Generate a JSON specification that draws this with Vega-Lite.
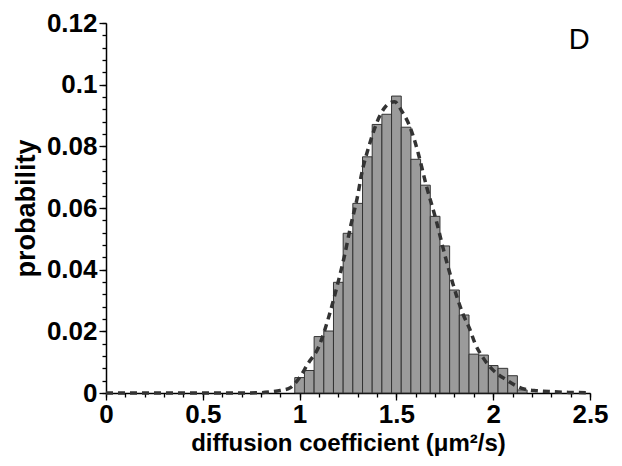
{
  "$schema": "https://vega.github.io/schema/vega-lite/v6.json",
  "autosize": "none",
  "width": 484,
  "height": 370,
  "padding": {"left": 106, "top": 23, "right": 32, "bottom": 73},
  "background": "white",
  "config": {
    "view": {"stroke": null},
    "axis": {
      "grid": false,
      "domainColor": "black",
      "domainWidth": 1.5,
      "tickColor": "black",
      "tickWidth": 1.3,
      "labelFont": "Liberation Sans",
      "labelFontWeight": "bold",
      "labelFontSize": 26,
      "labelColor": "black",
      "titleFont": "Liberation Sans",
      "titleFontWeight": "bold",
      "titleFontSize": 24,
      "titleColor": "black"
    }
  },
  "resolve": {"axis": {"x": "independent", "y": "independent"}},
  "layer": [
    {
      "data": {"values": [
        {"start": 0.975, "end": 1.025, "probability": 0.0050},
        {"start": 1.025, "end": 1.075, "probability": 0.0073},
        {"start": 1.075, "end": 1.125, "probability": 0.0183},
        {"start": 1.125, "end": 1.175, "probability": 0.0201},
        {"start": 1.175, "end": 1.225, "probability": 0.0359},
        {"start": 1.225, "end": 1.275, "probability": 0.0518},
        {"start": 1.275, "end": 1.325, "probability": 0.0615},
        {"start": 1.325, "end": 1.375, "probability": 0.0766},
        {"start": 1.375, "end": 1.425, "probability": 0.0871},
        {"start": 1.425, "end": 1.475, "probability": 0.0904},
        {"start": 1.475, "end": 1.525, "probability": 0.0963},
        {"start": 1.525, "end": 1.575, "probability": 0.0862},
        {"start": 1.575, "end": 1.625, "probability": 0.0758},
        {"start": 1.625, "end": 1.675, "probability": 0.0674},
        {"start": 1.675, "end": 1.725, "probability": 0.0573},
        {"start": 1.725, "end": 1.775, "probability": 0.0477},
        {"start": 1.775, "end": 1.825, "probability": 0.0334},
        {"start": 1.825, "end": 1.875, "probability": 0.0253},
        {"start": 1.875, "end": 1.925, "probability": 0.0126},
        {"start": 1.925, "end": 1.975, "probability": 0.0123},
        {"start": 1.975, "end": 2.025, "probability": 0.0089},
        {"start": 2.025, "end": 2.075, "probability": 0.0080},
        {"start": 2.075, "end": 2.125, "probability": 0.0056},
        {"start": 2.125, "end": 2.175, "probability": 0.0010}
      ]},
      "mark": {"type": "rect", "fill": "#9b9b9b", "stroke": "#333333", "strokeWidth": 1},
      "encoding": {
        "x": {
          "field": "start", "type": "quantitative",
          "scale": {"domain": [0, 2.5], "nice": false, "zero": false},
          "axis": {
            "orient": "bottom",
            "values": [0, 0.5, 1, 1.5, 2, 2.5],
            "labelExpr": "format(datum.value, '.1~f')",
            "tickSize": 7,
            "labelPadding": 1,
            "labelFlush": false,
            "title": "diffusion coefficient (μm²/s)",
            "titlePadding": 4
          }
        },
        "x2": {"field": "end"},
        "y": {
          "field": "probability", "type": "quantitative",
          "scale": {"domain": [0, 0.12], "nice": false},
          "axis": {
            "orient": "left",
            "values": [0, 0.02, 0.04, 0.06, 0.08, 0.1, 0.12],
            "labelExpr": "format(datum.value, '.2~f')",
            "tickSize": 7,
            "labelPadding": 2,
            "title": "probability",
            "titleFontSize": 27,
            "titlePadding": 6
          }
        },
        "y2": {"datum": 0}
      }
    },
    {
      "data": {"values": [
        {"d": 0.0, "p": 0.0},
        {"d": 0.5, "p": 0.0},
        {"d": 0.7, "p": 0.0},
        {"d": 0.8, "p": 0.0001},
        {"d": 0.856, "p": 0.0004},
        {"d": 0.9, "p": 0.0008},
        {"d": 0.949, "p": 0.0016},
        {"d": 1.0, "p": 0.0050},
        {"d": 1.042, "p": 0.0094},
        {"d": 1.099, "p": 0.0150},
        {"d": 1.146, "p": 0.0237},
        {"d": 1.191, "p": 0.0340},
        {"d": 1.230, "p": 0.0440},
        {"d": 1.265, "p": 0.0545},
        {"d": 1.303, "p": 0.0650},
        {"d": 1.317, "p": 0.0700},
        {"d": 1.360, "p": 0.0804},
        {"d": 1.415, "p": 0.0900},
        {"d": 1.463, "p": 0.0940},
        {"d": 1.490, "p": 0.0945},
        {"d": 1.527, "p": 0.0915},
        {"d": 1.566, "p": 0.0869},
        {"d": 1.596, "p": 0.0815},
        {"d": 1.613, "p": 0.0777},
        {"d": 1.656, "p": 0.0669},
        {"d": 1.705, "p": 0.0561},
        {"d": 1.746, "p": 0.0458},
        {"d": 1.791, "p": 0.0356},
        {"d": 1.815, "p": 0.0307},
        {"d": 1.846, "p": 0.0253},
        {"d": 1.877, "p": 0.0210},
        {"d": 1.906, "p": 0.0161},
        {"d": 1.949, "p": 0.0113},
        {"d": 1.998, "p": 0.0075},
        {"d": 2.070, "p": 0.0042},
        {"d": 2.148, "p": 0.0015},
        {"d": 2.226, "p": 0.0007},
        {"d": 2.311, "p": 0.0004},
        {"d": 2.389, "p": 0.0002},
        {"d": 2.5, "p": 0.0001}
      ]},
      "mark": {"type": "line", "color": "#333333", "strokeWidth": 3.5, "strokeDash": [7, 5], "interpolate": "monotone"},
      "encoding": {
        "x": {
          "field": "d", "type": "quantitative",
          "scale": {"domain": [0, 2.5], "nice": false, "zero": false},
          "axis": {
            "orient": "bottom",
            "values": [0, 0.1, 0.2, 0.3, 0.4, 0.5, 0.6, 0.7, 0.8, 0.9, 1, 1.1, 1.2, 1.3, 1.4, 1.5, 1.6, 1.7, 1.8, 1.9, 2, 2.1, 2.2, 2.3, 2.4, 2.5],
            "labels": false,
            "domain": false,
            "tickSize": 4,
            "title": null
          }
        },
        "y": {
          "field": "p", "type": "quantitative",
          "scale": {"domain": [0, 0.12], "nice": false},
          "axis": {
            "orient": "left",
            "values": [0, 0.004, 0.008, 0.012, 0.016, 0.02, 0.024, 0.028, 0.032, 0.036, 0.04, 0.044, 0.048, 0.052, 0.056, 0.06, 0.064, 0.068, 0.072, 0.076, 0.08, 0.084, 0.088, 0.092, 0.096, 0.1, 0.104, 0.108, 0.112, 0.116, 0.12],
            "labels": false,
            "domain": false,
            "tickSize": 4,
            "title": null
          }
        }
      }
    },
    {
      "data": {"values": [{"label": "D", "d": 2.444, "p": 0.1145}]},
      "mark": {"type": "text", "font": "Liberation Sans", "fontSize": 29, "fontWeight": "normal", "color": "black", "align": "center", "baseline": "middle"},
      "encoding": {
        "x": {"field": "d", "type": "quantitative", "scale": {"domain": [0, 2.5], "nice": false, "zero": false}, "axis": null},
        "y": {"field": "p", "type": "quantitative", "scale": {"domain": [0, 0.12], "nice": false}, "axis": null},
        "text": {"field": "label"}
      }
    }
  ]
}
